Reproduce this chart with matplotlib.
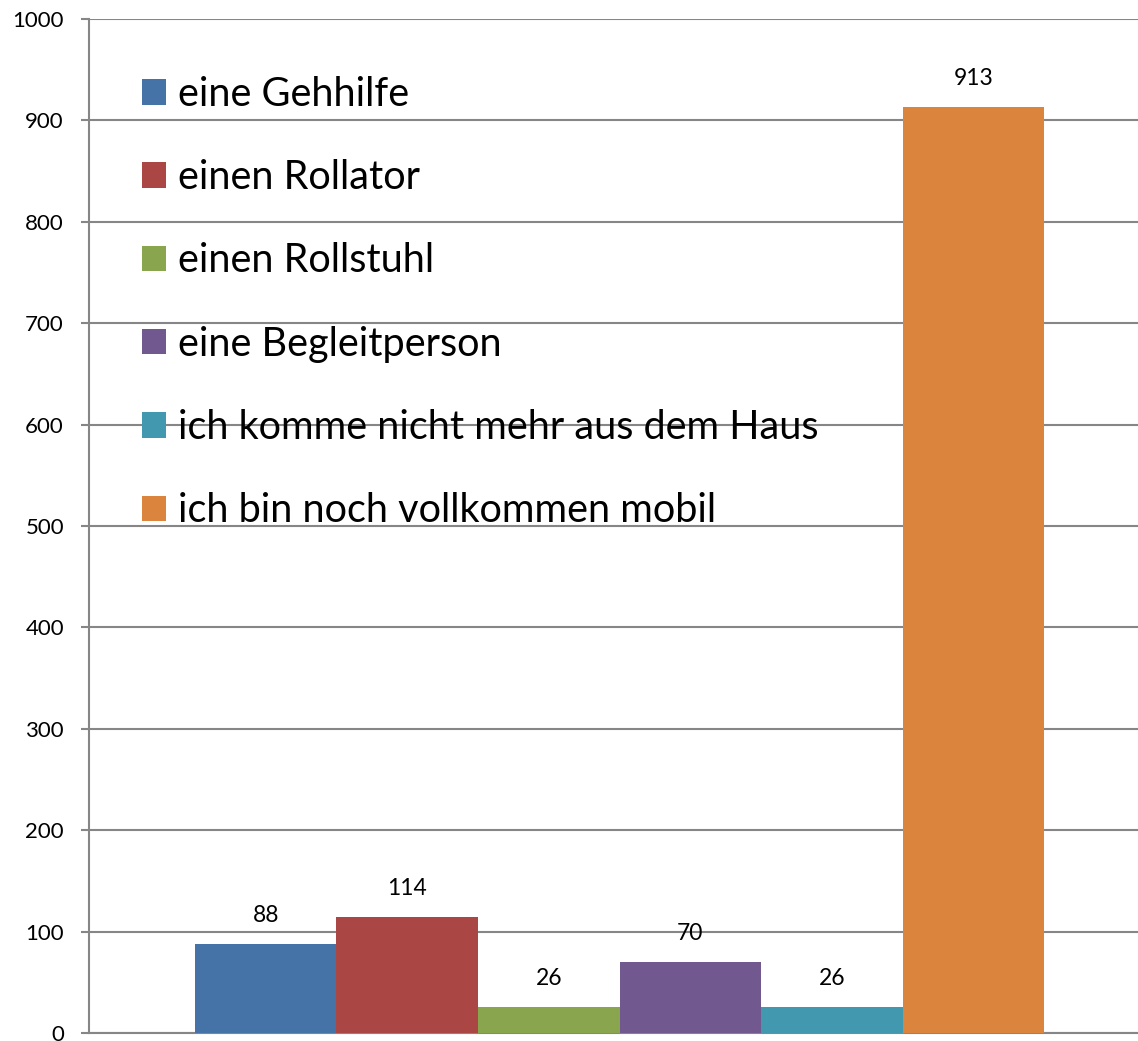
import matplotlib.pyplot as plt
from matplotlib.patches import Patch

# --- data ---
labels = ["eine Gehhilfe", "einen Rollator", "einen Rollstuhl", "eine Begleitperson",
          "ich komme nicht mehr aus dem Haus", "ich bin noch vollkommen mobil"]
values = [88, 114, 26, 70, 26, 913]
colors = ["#4572A7", "#AA4643", "#89A54E", "#71588F", "#4198AF", "#DB843D"]
yticks = list(range(0, 1001, 100))

plt.rcParams['font.family'] = ['Lato', 'DejaVu Sans']

W, H = 1138, 1041
fig = plt.figure(figsize=(W / 100, H / 100), dpi=100)
# plot area in pixels: left 89, right 1138, top 19, bottom 1033
ax = fig.add_axes([89 / W, (H - 1033) / H, (1138 - 89) / W, (1033 - 19) / H])

x = list(range(len(values)))
bars = ax.bar(x, values, width=1.0, color=colors, zorder=3)

for xi, v in zip(x, values):
    ax.annotate(str(v), (xi, v), xytext=(0, 13), textcoords='offset points',
                ha='center', va='bottom', fontsize=16.5, color='black')

ax.set_ylim(0, 1000)
ax.set_xlim(-1.249, 6.164)
ax.set_yticks(yticks)
ax.set_xticks([])
ax.tick_params(axis='y', direction='out', length=6, width=1.5, color='#868686',
               pad=12, labelsize=16)
ax.yaxis.grid(True, color='#868686', linewidth=1.5, zorder=0)
ax.set_axisbelow(True)

for side in ['top', 'right']:
    ax.spines[side].set_visible(False)
ax.spines['left'].set_color('#868686')
ax.spines['left'].set_linewidth(1.5)
ax.spines['bottom'].set_color('#868686')
ax.spines['bottom'].set_linewidth(1.5)

handles = [Patch(facecolor=c, edgecolor='none') for c in colors]
ax.legend(handles, labels, loc='upper left', bbox_to_anchor=(0.0507, 0.944),
          frameon=False, fontsize=28.5, handlelength=0.61, handleheight=0.61,
          handletextpad=0.3, labelspacing=1.17, borderpad=0, borderaxespad=0)

fig.savefig('out.png', dpi=100)
